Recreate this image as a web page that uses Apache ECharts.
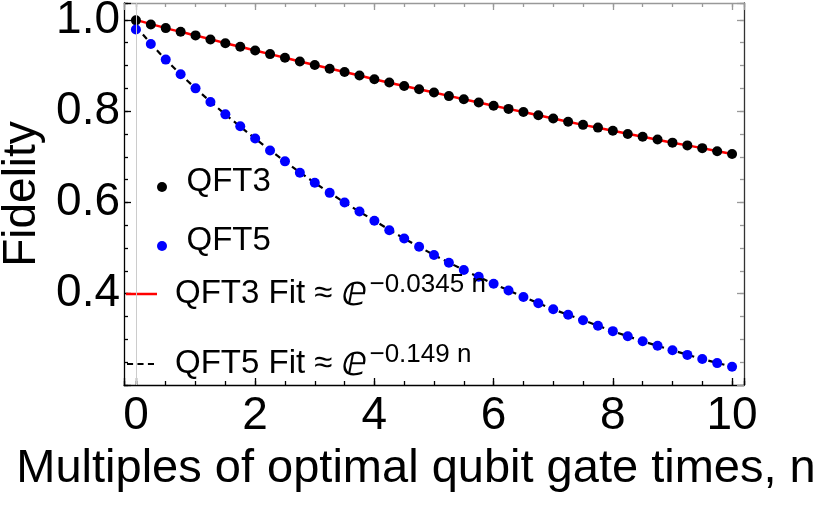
<!DOCTYPE html>
<html>
<head>
<meta charset="utf-8">
<script src="https://cdn.jsdelivr.net/npm/echarts@6/dist/echarts.min.js"></script>
<style>html,body{margin:0;padding:0;background:#fff}#c{width:830px;height:506px}</style>
</head>
<body>
<div id="c"></div>
<script>
// ---- data ----
const nValues = [0,0.25,0.5,0.75,1,1.25,1.5,1.75,2,2.25,2.5,2.75,3,3.25,3.5,3.75,4,4.25,4.5,4.75,5,5.25,5.5,5.75,6,6.25,6.5,6.75,7,7.25,7.5,7.75,8,8.25,8.5,8.75,9,9.25,9.5,9.75,10];
const qft3 = [0.999,0.990,0.982,0.974,0.966,0.957,0.949,0.941,0.933,0.925,0.917,0.909,0.901,0.893,0.886,0.878,0.870,0.863,0.855,0.848,0.841,0.833,0.826,0.819,0.812,0.805,0.798,0.791,0.784,0.777,0.770,0.764,0.757,0.750,0.744,0.738,0.731,0.725,0.719,0.712,0.706];
const qft5 = [0.979,0.947,0.913,0.881,0.850,0.820,0.793,0.767,0.740,0.714,0.690,0.665,0.643,0.621,0.600,0.580,0.560,0.539,0.521,0.503,0.485,0.468,0.452,0.437,0.422,0.407,0.393,0.379,0.366,0.354,0.342,0.330,0.318,0.307,0.296,0.286,0.276,0.266,0.257,0.248,0.240];
const fitN = [0,0.5,1,1.5,2,2.5,3,3.5,4,4.5,5,5.5,6,6.5,7,7.5,8,8.5,9,9.5,10];
const fit3 = [1.000,0.982,0.966,0.949,0.933,0.917,0.901,0.886,0.870,0.855,0.841,0.826,0.812,0.798,0.784,0.770,0.757,0.744,0.731,0.719,0.706];
const fit5 = [0.985,0.913,0.850,0.793,0.740,0.690,0.643,0.600,0.560,0.521,0.485,0.452,0.422,0.393,0.366,0.342,0.318,0.296,0.276,0.257,0.240];
const xTickValues = [0,2,4,6,8,10];
const xTickLabels = ['0','2','4','6','8','10'];
const yTickValues = [0.4,0.6,0.8,1.0];
const yTickLabels = ['0.4','0.6','0.8','1.0'];
const originLine = 0;
const seriesNames = ['QFT3','QFT5','QFT3 Fit','QFT5 Fit'];
const legendText = {
  'QFT3': '{a|QFT3}',
  'QFT5': '{a|QFT5}',
  'QFT3 Fit': '{m|QFT3 Fit ≈ }{e|ⅇ}{s|−0.0345 n}',
  'QFT5 Fit': '{m|QFT5 Fit ≈ }{e|ⅇ}{s|−0.149 n}'
};
const xTitle = 'Multiples of optimal qubit gate times, n';
const yTitle = 'Fidelity';

// ---- chart ----
const FONT = 'Liberation Sans';
const chart = echarts.init(document.getElementById('c'), null, {renderer: 'canvas'});

function pick(vals, labels, v) {
  for (let i = 0; i < vals.length; i++) if (Math.abs(vals[i] - v) < 1e-6) return labels[i];
  return '';
}
const XMIN = -0.2, XMAX = 10.2, YMIN = 0.2, YMAX = 1.037;

function xAx(pos, split, len, color, lineShow, extra) {
  return Object.assign({
    type: 'value', position: pos, min: XMIN, max: XMAX, splitNumber: split,
    axisLine: {show: lineShow, onZero: false, lineStyle: {color: color, width: 1.3}},
    axisTick: {show: true, inside: true, length: len, lineStyle: {color: color, width: 1.3}},
    axisLabel: {show: false}, splitLine: {show: false}
  }, extra || {});
}
function yAx(pos, interval, len, color, lineShow, extra) {
  return Object.assign({
    type: 'value', position: pos, min: YMIN, max: YMAX, interval: interval,
    axisLine: {show: lineShow, onZero: false, lineStyle: {color: color, width: 1.3}},
    axisTick: {show: true, inside: true, length: len, lineStyle: {color: color, width: 1.3}},
    axisLabel: {show: false}, splitLine: {show: false}
  }, extra || {});
}

const LFS = 33;
const richStyles = {
  a: {fontFamily: FONT, fontSize: LFS, color: '#000', padding: [0, 0, 11, 1]},
  m: {fontFamily: FONT, fontSize: LFS, color: '#000'},
  e: {fontFamily: 'DejaVu Sans', fontSize: 42, color: '#000'},
  s: {fontFamily: FONT, fontSize: 26, color: '#000', padding: [0, 0, 18, 2]}
};
function legendRow(name, left, top, w, h, icon, padLeft) {
  return {
    orient: 'vertical', padding: 0, selectedMode: false,
    left: left, top: top, itemWidth: w, itemHeight: h,
    data: [{name: name, icon: icon}],
    formatter: n => legendText[n],
    textStyle: {fontFamily: FONT, fontSize: LFS, color: '#000', padding: [0, 0, 0, padLeft], rich: richStyles}
  };
}

const option = {
  animation: false,
  backgroundColor: '#fff',
  textStyle: {fontFamily: FONT},
  grid: {left: 124, right: 86, top: 3, bottom: 121, containLabel: false, outerBoundsMode: 'none'},
  xAxis: [
    xAx('bottom', 5, 7, '#000', true, {
      axisLabel: {show: true, margin: 8, fontSize: 46, fontFamily: FONT, color: '#000',
        formatter: v => pick(xTickValues, xTickLabels, v)},
      name: xTitle, nameLocation: 'middle', nameGap: 61,
      nameTextStyle: {fontSize: 47, fontFamily: FONT, color: '#000', padding: [0, 36, 0, 0]}
    }),
    xAx('top', 5, 7, '#999', true),
    xAx('bottom', 20, 4, '#000', false),
    xAx('top', 20, 4, '#999', false)
  ],
  yAxis: [
    yAx('left', 0.2, 7, '#000', true, {
      axisLabel: {show: true, margin: 4, fontSize: 46, fontFamily: FONT, color: '#000',
        formatter: v => pick(yTickValues, yTickLabels, v)},
      name: yTitle, nameLocation: 'middle', nameGap: 79,
      nameTextStyle: {fontSize: 46, fontFamily: FONT, color: '#000'}
    }),
    yAx('right', 0.2, 7, '#999', true, {axisLine: {show: true, onZero: false, lineStyle: {color: '#333', width: 1.3}}}),
    yAx('left', 0.05, 4, '#000', false),
    yAx('right', 0.05, 4, '#999', false)
  ],
  legend: [
    legendRow(seriesNames[0], 157, 165, 37, 10, 'circle', 0),
    legendRow(seriesNames[1], 157, 224, 37, 10, 'circle', 0),
    legendRow(seriesNames[2], 126, 272, 31, 2.5, 'rect', 13),
    legendRow(seriesNames[3], 127, 342, 27, 2.2, 'path://M0,0h6v2h-6zM10.3,0h6v2h-6zM20.6,0h6v2h-6z', 16)
  ],
  series: [
    {
      name: seriesNames[2], type: 'line', xAxisIndex: 0, yAxisIndex: 0,
      data: fitN.map((n, i) => [n, fit3[i]]),
      symbol: 'none', smooth: 0.3, z: 2,
      itemStyle: {color: '#ff0000'},
      lineStyle: {color: '#ff0000', width: 2.5},
      markLine: {
        silent: true, symbol: ['none', 'none'], label: {show: false},
        lineStyle: {color: '#cccccc', width: 1, type: 'solid'},
        emphasis: {disabled: true},
        data: [{xAxis: originLine}]
      }
    },
    {
      name: seriesNames[3], type: 'line', xAxisIndex: 0, yAxisIndex: 0,
      data: fitN.map((n, i) => [n, fit5[i]]),
      symbol: 'none', smooth: 0.3, z: 2,
      itemStyle: {color: '#000000'},
      lineStyle: {color: '#000000', width: 2.2, type: [6, 4.5]}
    },
    {
      name: seriesNames[0], type: 'scatter', xAxisIndex: 0, yAxisIndex: 0,
      data: nValues.map((n, i) => [n, qft3[i]]),
      symbol: 'circle', symbolSize: 10, z: 3,
      itemStyle: {color: '#000000', opacity: 1}
    },
    {
      name: seriesNames[1], type: 'scatter', xAxisIndex: 0, yAxisIndex: 0,
      data: nValues.map((n, i) => [n, qft5[i]]),
      symbol: 'circle', symbolSize: 10, z: 3,
      itemStyle: {color: '#0000ff', opacity: 1}
    }
  ]
};
chart.setOption(option);
</script>
</body>
</html>
